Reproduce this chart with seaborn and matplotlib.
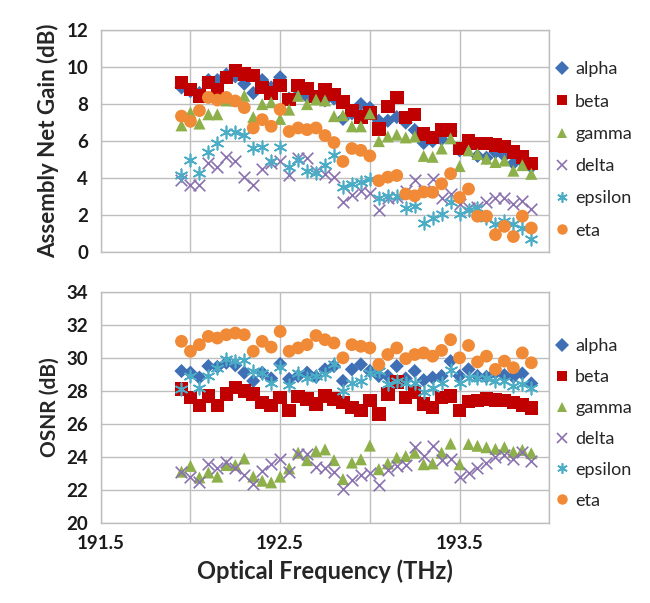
import numpy as np
import pandas as pd
import matplotlib.pyplot as plt
import seaborn as sns
from matplotlib.lines import Line2D

# Frequencies of the measured channels (THz)
freq = [191.95, 192.00, 192.05, 192.10, 192.15, 192.20, 192.25, 192.30, 192.35, 192.40,
        192.45, 192.50, 192.55, 192.60, 192.65, 192.70, 192.75, 192.80, 192.85, 192.90,
        192.95, 193.00, 193.05, 193.10, 193.15, 193.20, 193.25, 193.30, 193.35, 193.40,
        193.45, 193.50, 193.55, 193.60, 193.65, 193.70, 193.75, 193.80, 193.85, 193.90]

names = ['alpha', 'beta', 'gamma', 'delta', 'epsilon', 'eta']

# Assembly net gain (dB)
gain_alpha = [8.9, 8.7, 8.6, 9.3, 9.3, 9.6, 9.5, 9.1, 8.6, 9.3,
              8.9, 9.45, 8.3, 8.5, 8.4, 8.3, 8.2, 8.3, 7.2, 7.5,
              8.0, 7.8, 7.1, 7.1, 7.3, 7.0, 6.6, 5.9, 6.0, 6.1,
              6.5, 5.5, 5.8, 5.2, 5.1, 5.4, 5.2, 4.8, 4.9, 4.6]
gain_beta = [9.17, 8.8, 8.44, 9.17, 8.8, 9.45, 9.82, 9.63, 9.54, 8.9,
             8.59, 9.0, 8.26, 9.0, 8.85, 8.4, 8.75, 8.53, 8.12, 7.66,
             7.3, 7.52, 6.66, 7.87, 8.35, 7.28, 7.44, 6.38, 6.2, 6.6,
             6.6, 5.6, 6.0, 5.88, 5.88, 5.8, 5.7, 5.42, 5.15, 4.78]
gain_gamma = [6.85, 7.55, 6.95, 7.45, 7.45, 8.2, 8.2, 8.45, 7.3, 8.0,
              8.1, 7.2, 7.7, 8.45, 8.0, 8.25, 8.2, 7.35, 7.4, 6.8,
              6.8, 7.5, 6.0, 6.25, 6.35, 6.2, 6.25, 5.2, 5.15, 5.6,
              6.15, 4.65, 5.5, 5.3, 5.05, 4.87, 4.95, 4.4, 4.7, 4.23]
gain_delta = [3.9, 3.6, 3.6, 4.8, 4.6, 5.15, 4.9, 4.05, 3.6, 4.5,
              4.8, 4.95, 4.15, 5.1, 5.1, 4.4, 4.2, 4.05, 2.7, 3.1,
              3.3, 3.2, 2.3, 2.95, 3.0, 3.3, 3.9, 3.3, 3.95, 2.95,
              3.15, 2.6, 2.4, 2.45, 2.7, 2.95, 2.95, 2.6, 2.75, 2.35]
gain_epsilon = [4.15, 5.0, 4.3, 5.4, 5.9, 6.5, 6.5, 6.35, 5.6, 5.7,
                4.95, 5.7, 4.6, 5.0, 4.4, 4.3, 4.7, 5.25, 3.5, 3.7,
                3.8, 3.95, 2.95, 3.05, 3.05, 2.4, 2.5, 1.55, 1.85, 2.05,
                2.7, 2.05, 2.3, 2.4, 1.85, 1.5, 1.7, 1.5, 1.3, 0.7]
gain_eta = [7.35, 7.07, 7.65, 8.36, 8.22, 8.36, 8.17, 7.81, 6.71, 7.16,
            6.8, 7.71, 6.52, 6.71, 6.62, 6.71, 6.3, 5.92, 4.9, 5.6,
            5.5, 5.2, 3.86, 4.05, 4.14, 3.14, 3.04, 3.25, 3.23, 3.69,
            4.24, 2.95, 3.41, 1.94, 1.94, 0.94, 1.39, 0.84, 1.94, 1.3]

# OSNR (dB)
osnr_alpha = [29.2, 29.1, 28.8, 29.5, 29.45, 29.7, 29.55, 29.1, 28.6, 29.1,
              28.75, 29.63, 28.72, 28.9, 29.1, 28.85, 29.3, 29.5, 28.6, 29.3,
              29.6, 29.2, 28.9, 28.9, 29.5, 28.75, 29.2, 28.65, 28.8, 28.9,
              29.8, 28.9, 29.3, 28.9, 28.85, 29.1, 28.95, 28.85, 29.05, 28.45]
osnr_beta = [28.1, 27.6, 27.1, 27.7, 27.1, 27.8, 28.2, 28.0, 27.8, 27.3,
             27.1, 27.6, 26.8, 27.65, 27.5, 27.2, 27.7, 27.5, 27.3, 27.0,
             26.8, 27.4, 26.6, 27.8, 28.55, 27.6, 27.9, 27.2, 27.0, 27.6,
             27.7, 26.8, 27.35, 27.4, 27.5, 27.45, 27.4, 27.3, 27.15, 26.95]
osnr_gamma = [23.1, 23.45, 22.75, 23.05, 22.8, 23.5, 23.5, 23.9, 22.8, 22.55,
              22.45, 22.8, 23.3, 24.25, 23.8, 24.35, 24.45, 23.8, 22.65, 23.65,
              23.85, 24.68, 23.25, 23.6, 23.95, 24.05, 24.25, 23.55, 23.6, 24.25,
              24.8, 23.55, 24.78, 24.67, 24.58, 24.48, 24.58, 24.3, 24.42, 24.22]
osnr_delta = [23.05, 22.75, 22.45, 23.55, 23.3, 23.7, 23.35, 22.9, 22.35, 23.15,
              23.55, 23.85, 23.1, 24.2, 24.2, 23.4, 23.3, 23.05, 22.05, 22.6,
              22.9, 23.0, 22.3, 23.2, 23.45, 23.5, 24.6, 24.06, 24.68, 23.8,
              23.86, 22.76, 23.0, 23.3, 23.6, 24.0, 24.12, 23.87, 24.27, 23.77]
osnr_epsilon = [28.1, 28.9, 28.2, 28.9, 29.4, 29.9, 29.8, 29.85, 29.2, 29.1,
                28.5, 29.45, 28.35, 29.1, 28.8, 28.9, 29.0, 29.65, 28.0, 28.5,
                28.6, 29.1, 29.2, 28.4, 28.6, 28.5, 28.5, 27.9, 28.15, 28.5,
                29.25, 28.5, 28.8, 28.8, 28.8, 28.6, 28.6, 28.3, 28.4, 28.15]
osnr_eta = [31.0, 30.4, 30.8, 31.3, 31.2, 31.4, 31.5, 31.4, 30.4, 31.0,
            30.65, 31.6, 30.4, 30.6, 30.8, 31.35, 31.1, 30.9, 30.0, 30.8,
            30.7, 30.6, 29.6, 30.2, 30.6, 29.95, 30.2, 30.3, 30.1, 30.45,
            31.1, 30.0, 30.75, 29.75, 30.1, 29.3, 29.8, 29.4, 30.3, 29.7]

gain = dict(zip(names, [gain_alpha, gain_beta, gain_gamma, gain_delta, gain_epsilon, gain_eta]))
osnr = dict(zip(names, [osnr_alpha, osnr_beta, osnr_gamma, osnr_delta, osnr_epsilon, osnr_eta]))

# marker, colour, size, filled
styles = {
    'alpha':   ('D', '#3f6fb5', 52, True),
    'beta':    ('s', '#c00000', 95, True),
    'gamma':   ('^', '#8db04a', 75, True),
    'delta':   ('x', '#8a72b0', 70, False),
    'epsilon': ((6, 2, 0), '#4bacc6', 80, False),
    'eta':     ('o', '#f08a36', 85, True),
}

sns.set_style('white')
plt.rcParams['font.family'] = ['Lato', 'DejaVu Sans']
plt.rcParams['text.color'] = '#1a1a1a'

fig = plt.figure(figsize=(6.5, 6.03), dpi=100)
ax1 = fig.add_axes([0.155, 0.582, 0.69, 0.368])
ax2 = fig.add_axes([0.155, 0.133, 0.69, 0.383])

grid_col = '#bebebe'
for ax, data in [(ax1, gain), (ax2, osnr)]:
    for name in names:
        mk, col, size, filled = styles[name]
        df = pd.DataFrame({'freq': freq, 'val': data[name]})
        if filled:
            sns.scatterplot(data=df, x='freq', y='val', ax=ax, marker=mk, color=col,
                            s=size, edgecolor='none', linewidth=0, legend=False, zorder=3)
        else:
            sns.scatterplot(data=df, x='freq', y='val', ax=ax, marker=mk, color=col,
                            s=size, linewidth=1.2, legend=False, zorder=3)
    ax.set_xlim(191.5, 194)
    ax.set_xticks([191.5, 192.0, 192.5, 193.0, 193.5, 194.0])
    ax.grid(True, color=grid_col, linewidth=1)
    ax.set_axisbelow(True)
    for sp in ax.spines.values():
        sp.set_color(grid_col)
        sp.set_linewidth(1)
    ax.tick_params(axis='both', length=5, color=grid_col, labelsize=13.5, pad=4,
                   labelcolor='#1a1a1a')

    handles = [Line2D([], [], linestyle='', marker=styles[n][0], color=styles[n][1],
                      markersize=7.5, markeredgewidth=1.2 if not styles[n][3] else 0)
               for n in names]
    if ax is ax1:
        sp_, cy = 0.9, 0.46
    else:
        sp_, cy = 0.82, 0.43
    ax.legend(handles, names, loc='center left', bbox_to_anchor=(0.975, cy),
              frameon=False, fontsize=13, handlelength=0.9, handletextpad=0.25,
              labelspacing=sp_, labelcolor='#262626')

ax1.set_ylim(0, 12)
ax1.set_yticks(np.arange(0, 13, 2))
ax1.set_xticklabels([])
ax1.set_xlabel('')
ax1.set_ylabel('Assembly Net Gain (dB)', fontsize=16, fontweight='bold', labelpad=5)

ax2.set_ylim(20, 34)
ax2.set_yticks(np.arange(20, 35, 2))
ax2.set_xticklabels(['191.5', '', '192.5', '', '193.5', ''], fontweight='bold')
ax2.set_xlabel('Optical Frequency (THz)', fontsize=17, fontweight='bold', labelpad=5)
ax2.set_ylabel('OSNR (dB)', fontsize=15, fontweight='bold', labelpad=5)
for ax in (ax1, ax2):
    for lab in ax.get_yticklabels():
        lab.set_fontweight('bold')

fig.savefig('out.png', dpi=100)
